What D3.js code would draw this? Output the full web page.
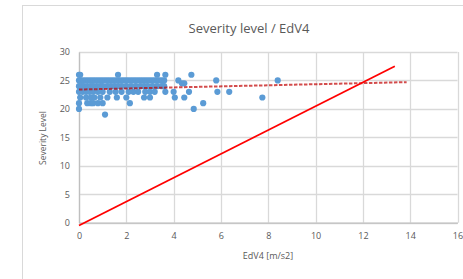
<!DOCTYPE html>
<html><head><meta charset="utf-8">
<script src="https://cdn.jsdelivr.net/npm/d3@7"></script>
<style>body{margin:0;background:#fff;}svg{display:block;font-family:"Open Sans",sans-serif;}</style>
</head><body><svg id="c" width="463" height="279"></svg>
<script>
const title = "Severity level / EdV4";
const xLabel = "EdV4 [m/s2]";
const yLabel = "Severity Level";
const xTicks = [0,2,4,6,8,10,12,14,16];
const yTicks = [0,5,10,15,20,25,30];
// scatter points (EdV4, severity)
const pointsX = [
 0,0.05,1.65,3.3,3.65,4.75,
 0,0.1,0.2,0.3,0.4,0.5,0.6,0.7,0.8,0.9,1.0,1.1,1.2,1.3,1.4,1.5,1.6,1.7,1.8,1.9,2.0,2.1,2.2,2.3,2.4,2.5,2.6,2.7,2.8,2.9,3.0,3.1,3.2,3.3,3.4,3.5,3.6,4.2,5.8,8.4,
 0,0.1,0.2,0.35,0.5,0.6,0.75,0.9,1.0,1.2,1.35,1.5,1.65,1.8,2.0,2.2,2.4,2.6,2.75,2.9,3.1,3.3,3.5,3.6,4.35,4.45,
 0,0.15,0.3,0.45,0.6,0.8,1.0,1.3,1.55,1.8,2.1,2.3,2.5,2.8,3.0,3.2,3.65,4.0,4.65,5.85,6.35,
 0.05,0.3,0.5,0.65,0.9,1.2,1.6,2.0,2.75,3.0,4.05,4.45,7.75,
 0,0.35,0.5,0.6,0.8,1.0,2.15,5.25,
 0,4.85,
 1.1];
const pointsY = [
 26,26,26,26,26,26,
 25,25,25,25,25,25,25,25,25,25,25,25,25,25,25,25,25,25,25,25,25,25,25,25,25,25,25,25,25,25,25,25,25,25,25,25,25,25,25,25,
 24,24,24,24,24,24,24,24,24,24,24,24,24,24,24,24,24,24,24,24,24,24,24,24,24.5,24.5,
 23,23,23,23,23,23,23,23,23,23,23,23,23,23,23,23,23,23,23,23,23,
 22,22,22,22,22,22,22,22,22,22,22,22,22,
 21,21,21,21,21,21,21,21,
 20,20,
 19];
// linear trend line (dashed) endpoints
const trendX = [0, 13.85];
const trendY = [23.4, 24.7];
// solid red reference line endpoints
const refX = [0, 13.35];
const refY = [-0.5, 27.5];

const svg = d3.select("#c");
const W = 463, H = 279;
const m = {l:79, r:W-457.5, t:52, b:H-222.7};
const x = d3.scaleLinear().domain([0,16]).range([m.l, W-m.r]);
const y = d3.scaleLinear().domain([0,30]).range([H-m.b, m.t]);
const grey = "#d9d9d9", txt = "#595959";

svg.append("rect").attr("x",22.5).attr("y",5.5).attr("width",500).attr("height",400)
  .attr("fill","#fff").attr("stroke",grey).attr("stroke-width",1);

svg.append("text").attr("x",249).attr("y",33).attr("text-anchor","middle")
  .attr("font-size",13).attr("fill",txt).text(title);

// grid
svg.append("g").selectAll("line").data(yTicks).join("line")
  .attr("x1",x(0)).attr("x2",x(16)).attr("y1",d=>Math.round(y(d))+0.5).attr("y2",d=>Math.round(y(d))+0.5)
  .attr("stroke",grey).attr("stroke-width",1.3);
svg.append("g").selectAll("line").data(xTicks).join("line")
  .attr("y1",y(0)).attr("y2",y(30)).attr("x1",d=>Math.round(x(d))+0.5).attr("x2",d=>Math.round(x(d))+0.5)
  .attr("stroke",grey).attr("stroke-width",1.3);

// axes
const xa = svg.append("g").attr("transform",`translate(0,${y(0)})`)
  .call(d3.axisBottom(x).tickValues(xTicks).tickSize(0).tickPadding(10));
const ya = svg.append("g").attr("transform",`translate(${x(0)},0)`)
  .call(d3.axisLeft(y).tickValues(yTicks).tickSize(0).tickPadding(9));
[xa,ya].forEach(a=>{a.select(".domain").attr("stroke","#bfbfbf").attr("stroke-width",1.3);
  a.selectAll("text").attr("fill",txt).attr("font-size",9).attr("font-family","'Open Sans',sans-serif");});

svg.append("text").attr("x",268).attr("y",259).attr("text-anchor","middle")
  .attr("font-size",9).attr("fill",txt).text(xLabel);
svg.append("text").attr("transform","translate(46,138) rotate(-90)").attr("text-anchor","middle")
  .attr("font-size",8.5).attr("fill",txt).text(yLabel);

// points
svg.append("g").selectAll("circle").data(pointsX.map((d,i)=>[d,pointsY[i]])).join("circle")
  .attr("cx",d=>x(d[0])).attr("cy",d=>y(d[1])).attr("r",3.1).attr("fill","#5b9bd5");

// trend line
svg.append("line").attr("x1",x(trendX[0])).attr("y1",y(trendY[0])).attr("x2",x(trendX[1])).attr("y2",y(trendY[1]))
  .attr("stroke","#c00000").attr("stroke-opacity",0.7).attr("stroke-width",2).attr("stroke-dasharray","3.5,1.5");

// reference line
svg.append("line").attr("x1",x(refX[0])).attr("y1",y(refY[0])).attr("x2",x(refX[1])).attr("y2",y(refY[1]))
  .attr("stroke","#ff0000").attr("stroke-width",1.8);
</script></body></html>
